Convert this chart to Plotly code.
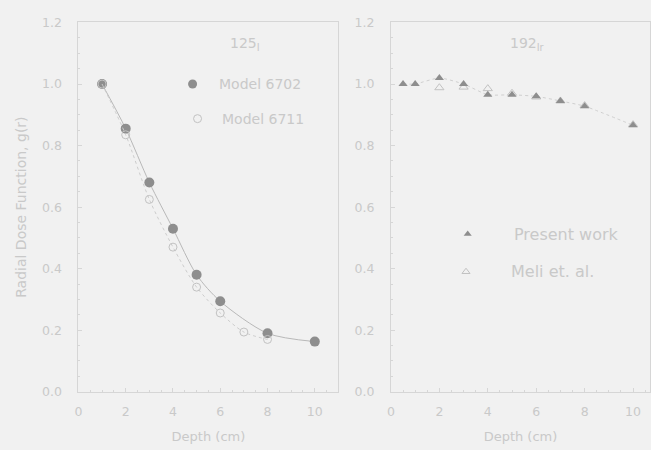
import plotly.graph_objects as go

# Radial dose function data
depth_6702 = [1, 2, 3, 4, 5, 6, 8, 10]
g_6702 = [1.0, 0.855, 0.68, 0.53, 0.38, 0.294, 0.19, 0.163]

depth_6711 = [1, 2, 3, 4, 5, 6, 7, 8]
g_6711 = [1.0, 0.835, 0.625, 0.47, 0.34, 0.256, 0.194, 0.17]

depth_ir = [0.5, 1, 2, 3, 4, 5, 6, 7, 8, 10]
g_present = [1.0, 1.0, 1.02, 1.0, 0.965, 0.965, 0.96, 0.945, 0.928, 0.866]

depth_meli = [2, 3, 4, 5, 6, 7, 8, 10]
g_meli = [0.988, 0.99, 0.985, 0.97, 0.958, 0.945, 0.93, 0.868]

y_ticks = [0.0, 0.2, 0.4, 0.6, 0.8, 1.0, 1.2]
x_ticks = [0, 2, 4, 6, 8, 10]

BG = "#f1f1f1"
AXIS = "#d6d6d6"
TEXT = "#c9c9c9"
DARK = "#8e8e8e"
LIGHT = "#c2c2c2"
FONT = "DejaVu Sans"

fig = go.Figure()

fig.add_trace(go.Scatter(x=depth_6702, y=g_6702, mode="lines+markers",
                         line=dict(color="#b8b8b8", width=1, shape="spline", smoothing=0.8),
                         marker=dict(symbol="circle", size=10, color=DARK, line=dict(width=0)),
                         xaxis="x", yaxis="y", showlegend=False))
fig.add_trace(go.Scatter(x=depth_6711, y=g_6711, mode="lines+markers",
                         line=dict(color="#cccccc", width=1, dash="dot", shape="spline", smoothing=0.8),
                         marker=dict(symbol="circle-open", size=8, color=LIGHT, line=dict(width=1)),
                         xaxis="x", yaxis="y", showlegend=False))

fig.add_trace(go.Scatter(x=depth_meli, y=g_meli, mode="markers",
                         marker=dict(symbol="triangle-up-open", size=8, color=LIGHT, line=dict(width=1)),
                         xaxis="x2", yaxis="y2", showlegend=False))
fig.add_trace(go.Scatter(x=depth_ir, y=g_present, mode="lines+markers",
                         line=dict(color="#cfcfcf", width=1, dash="dot", shape="spline", smoothing=0.5),
                         marker=dict(symbol="triangle-up", size=8, color=DARK, line=dict(width=0)),
                         xaxis="x2", yaxis="y2", showlegend=False))

axis_common = dict(showgrid=False, zeroline=False, showline=True, linecolor=AXIS, linewidth=1, mirror=True,
                   ticks="inside", ticklen=4, tickcolor=AXIS,
                   tickfont=dict(family=FONT, size=12.5, color=TEXT),
                   minor=dict(ticks="inside", ticklen=2, tickcolor=AXIS, showgrid=False))

title_font = dict(family=FONT, size=13, color=TEXT)

fig.update_layout(
    width=651, height=450,
    margin=dict(l=0, r=0, t=0, b=0),
    paper_bgcolor=BG, plot_bgcolor=BG,
    font=dict(family=FONT, color=TEXT),
    xaxis=dict(domain=[0.1152, 0.5177], range=[0, 11], tickvals=x_ticks, ticktext=[str(v) for v in x_ticks],
               title=dict(text="Depth (cm)", font=title_font, standoff=14), ticklabelstandoff=8,
               anchor="y", **axis_common),
    yaxis=dict(domain=[0.1178, 0.9667], range=[0, 1.2], tickvals=y_ticks, ticktext=[f"{v:.1f}" for v in y_ticks],
               title=dict(text="Radial Dose Function, g(r)", font=dict(family=FONT, size=14, color=TEXT), standoff=12),
               ticklabelstandoff=13, anchor="x", **axis_common),
    xaxis2=dict(domain=[0.599, 1.0], range=[0, 10.7], tickvals=x_ticks, ticktext=[str(v) for v in x_ticks],
                title=dict(text="Depth (cm)", font=title_font, standoff=14), ticklabelstandoff=8,
                anchor="y2", **axis_common),
    yaxis2=dict(domain=[0.1178, 0.9667], range=[0, 1.2], tickvals=y_ticks, ticktext=[f"{v:.1f}" for v in y_ticks],
                ticklabelstandoff=13, anchor="x2", **axis_common),
)

# Panel labels and in-plot legends
fig.add_annotation(x=7.05, y=1.13, xref="x", yref="y", text="125<sub>I</sub>", showarrow=False,
                   font=dict(family=FONT, size=14, color=TEXT))
fig.add_annotation(x=5.85, y=1.0, xref="x", yref="y", text="Model 6702", showarrow=False, xanchor="left",
                   font=dict(family=FONT, size=14, color=TEXT))
fig.add_annotation(x=6.0, y=0.8875, xref="x", yref="y", text="Model 6711", showarrow=False, xanchor="left",
                   font=dict(family=FONT, size=14, color=TEXT))
fig.add_trace(go.Scatter(x=[4.83], y=[1.0], mode="markers", marker=dict(symbol="circle", size=9, color=DARK),
                         xaxis="x", yaxis="y", showlegend=False))
fig.add_trace(go.Scatter(x=[5.04], y=[0.8875], mode="markers",
                         marker=dict(symbol="circle-open", size=8, color=LIGHT, line=dict(width=1)),
                         xaxis="x", yaxis="y", showlegend=False))

fig.add_annotation(x=5.64, y=1.13, xref="x2", yref="y2", text="192<sub>Ir</sub>", showarrow=False,
                   font=dict(family=FONT, size=14, color=TEXT))
fig.add_annotation(x=5.02, y=0.5125, xref="x2", yref="y2", text="Present work", showarrow=False, xanchor="left",
                   font=dict(family=FONT, size=16, color=TEXT))
fig.add_annotation(x=4.86, y=0.39, xref="x2", yref="y2", text="Meli et. al.", showarrow=False, xanchor="left",
                   font=dict(family=FONT, size=16, color=TEXT))
fig.add_trace(go.Scatter(x=[3.17], y=[0.5125], mode="markers", marker=dict(symbol="triangle-up", size=7, color=DARK),
                         xaxis="x2", yaxis="y2", showlegend=False))
fig.add_trace(go.Scatter(x=[3.1], y=[0.39], mode="markers",
                         marker=dict(symbol="triangle-up-open", size=7, color=LIGHT, line=dict(width=1)),
                         xaxis="x2", yaxis="y2", showlegend=False))

fig.write_html("out.html")
